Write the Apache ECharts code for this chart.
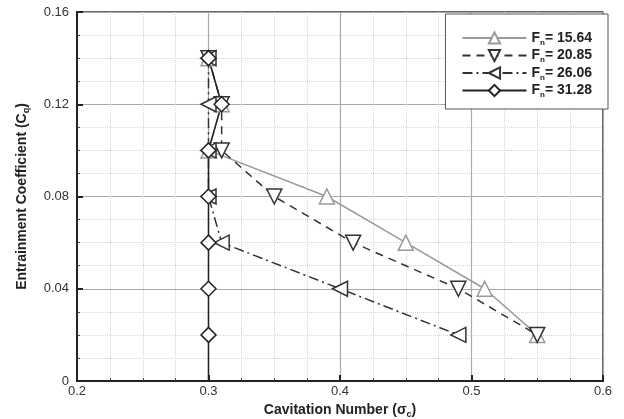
<!DOCTYPE html>
<html>
<head>
<meta charset="utf-8">
<script src="https://cdn.jsdelivr.net/npm/echarts@6/dist/echarts.min.js"></script>
<style>
  html, body { margin: 0; padding: 0; background: #fff; }
  #chart { width: 624px; height: 419px; }
</style>
</head>
<body>
<div id="chart"></div>
<script>
const seriesNames = ['15.64', '20.85', '26.06', '31.28'];

const fn1564 = [[0.30, 0.14], [0.31, 0.12], [0.30, 0.10], [0.39, 0.08], [0.45, 0.06], [0.51, 0.04], [0.55, 0.02]];
const fn2085 = [[0.30, 0.14], [0.31, 0.12], [0.31, 0.10], [0.35, 0.08], [0.41, 0.06], [0.49, 0.04], [0.55, 0.02]];
const fn2606 = [[0.30, 0.14], [0.30, 0.12], [0.30, 0.10], [0.30, 0.08], [0.31, 0.06], [0.40, 0.04], [0.49, 0.02]];
const fn3128 = [[0.30, 0.14], [0.31, 0.12], [0.30, 0.10], [0.30, 0.08], [0.30, 0.06], [0.30, 0.04], [0.30, 0.02], [0.30, 0]];

const chart = echarts.init(document.getElementById('chart'));

const font = 'Liberation Sans, Arial, sans-serif';

function mkSeries(name, data, color, type, symbol, rotate) {
  return {
    name: name,
    type: 'line',
    data: data.map(function (p) {
      // last point of the vertical line has no marker
      if (p[1] === 0) return { value: p, symbol: 'none' };
      return p;
    }),
    symbol: symbol,
    symbolSize: 15,
    symbolRotate: rotate,
    showAllSymbol: true,
    lineStyle: { color: color, width: 1.5, type: type },
    itemStyle: { color: '#fff', borderColor: color, borderWidth: 1.5 },
    emphasis: { disabled: true }
  };
}

const option = {
  animation: false,
  backgroundColor: '#fff',
  textStyle: { fontFamily: font },
  grid: {
    left: 77, right: 21, top: 12, bottom: 38,
    outerBoundsMode: 'none',
    containLabel: false,
    show: true, borderColor: '#333', borderWidth: 1.5
  },
  legend: {
    top: 14,
    right: 16,
    orient: 'vertical',
    backgroundColor: '#fff',
    borderColor: '#555',
    borderWidth: 1,
    padding: [17, 16, 10, 16],
    itemWidth: 64,
    itemHeight: 14,
    itemGap: 2,
    formatter: function (n) { return '{b|F}{s|n}{b|= ' + n + '}'; },
    textStyle: {
      rich: {
        b: { fontSize: 14, fontWeight: 'bold', color: '#222', fontFamily: font },
        s: { fontSize: 8, fontWeight: 'bold', color: '#222', fontFamily: font, verticalAlign: 'bottom', padding: [9, 0, 0, 0] }
      }
    }
  },
  xAxis: {
    type: 'value',
    min: 0.2, max: 0.6, interval: 0.1,
    name: '{t|Cavitation Number (σ}{s|c}{t|)}',
    nameLocation: 'middle',
    nameGap: 19,
    nameTextStyle: {
      rich: {
        t: { fontSize: 14, fontWeight: 'bold', color: '#222', fontFamily: font },
        s: { fontSize: 9, fontWeight: 'bold', color: '#222', fontFamily: font, padding: [9, 0, 0, 0] }
      }
    },
    axisLine: { lineStyle: { color: '#222', width: 2 } },
    axisTick: { inside: true, length: 6, lineStyle: { color: '#222', width: 2 } },
    minorTick: { show: true, splitNumber: 4, length: 3, lineStyle: { color: '#444' } },
    axisLabel: { color: '#333', fontSize: 13, margin: 4, formatter: function (v) { return String(+v.toFixed(1)); } },
    splitLine: { show: true, lineStyle: { color: '#aaa', width: 1.2 } },
    minorSplitLine: { show: true, lineStyle: { color: '#d4d4d4', type: 'dotted' } }
  },
  yAxis: {
    type: 'value',
    min: 0, max: 0.16, interval: 0.04,
    name: '{t|Entrainment Coefficient (C}{s|q}{t|)}',
    nameLocation: 'middle',
    nameGap: 46,
    nameTextStyle: {
      rich: {
        t: { fontSize: 14, fontWeight: 'bold', color: '#222', fontFamily: font },
        s: { fontSize: 9, fontWeight: 'bold', color: '#222', fontFamily: font, padding: [9, 0, 0, 0] }
      }
    },
    axisLine: { lineStyle: { color: '#222', width: 2 } },
    axisTick: { inside: true, length: 6, lineStyle: { color: '#222', width: 2 } },
    minorTick: { show: true, splitNumber: 4, length: 3, lineStyle: { color: '#444' } },
    axisLabel: { color: '#333', fontSize: 13, margin: 8, formatter: function (v) { return String(+v.toFixed(2)); } },
    splitLine: { show: true, lineStyle: { color: '#aaa', width: 1.2 } },
    minorSplitLine: { show: true, lineStyle: { color: '#d4d4d4', type: 'dotted' } }
  },
  series: [
    mkSeries(seriesNames[0], fn1564, '#999', 'solid', 'triangle', 0),
    mkSeries(seriesNames[1], fn2085, '#333', [8, 6], 'triangle', 180),
    mkSeries(seriesNames[2], fn2606, '#333', [10, 4, 2, 4], 'triangle', 90),
    mkSeries(seriesNames[3], fn3128, '#222', 'solid', 'diamond', 0)
  ]
};

chart.setOption(option);
</script>
</body>
</html>
